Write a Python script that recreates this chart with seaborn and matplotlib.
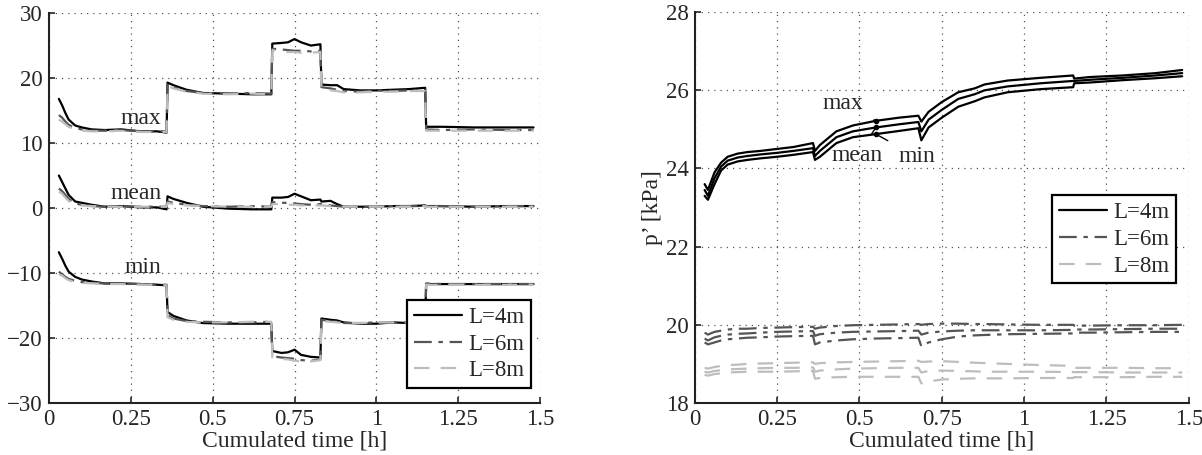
import matplotlib
matplotlib.use("Agg")
import matplotlib.pyplot as plt
import numpy as np
import seaborn as sns

# ---------------- left panel data ----------------
t_left = [0.03, 0.04, 0.05, 0.06, 0.08, 0.10, 0.13, 0.17, 0.22, 0.28, 0.33, 0.359, 0.362,
          0.38, 0.42, 0.47, 0.55, 0.62, 0.679, 0.682, 0.71, 0.73, 0.75, 0.77, 0.80, 0.829,
          0.832, 0.86, 0.88, 0.90, 0.95, 1.0, 1.05, 1.10, 1.149, 1.152, 1.2, 1.3, 1.4, 1.48]

max_4 = [16.8, 15.8, 14.6, 13.6, 12.7, 12.4, 12.1, 12.0, 12.1, 11.8, 11.8, 11.6, 19.3,
         18.9, 18.2, 17.7, 17.6, 17.5, 17.5, 25.3, 25.4, 25.5, 26.0, 25.5, 25.0, 25.2,
         19.0, 18.9, 18.9, 18.3, 18.1, 18.1, 18.2, 18.3, 18.5, 12.5, 12.5, 12.4, 12.4, 12.4]
max_6 = [14.3, 13.9, 13.3, 12.8, 12.3, 12.1, 11.9, 11.9, 12.0, 11.8, 11.8, 11.8, 19.0,
         18.6, 18.0, 17.7, 17.6, 17.7, 17.6, 24.5, 24.4, 24.3, 24.2, 24.2, 24.1, 24.2,
         18.6, 18.4, 18.2, 18.0, 17.9, 18.1, 18.0, 18.1, 18.2, 12.1, 12.0, 12.1, 12.0, 12.0]
max_8 = [13.6, 13.3, 12.9, 12.5, 12.1, 11.9, 11.8, 11.8, 11.9, 11.7, 11.7, 11.7, 18.8,
         18.4, 17.9, 17.6, 17.5, 17.6, 17.5, 24.3, 24.1, 24.0, 24.0, 23.9, 23.9, 24.0,
         18.3, 18.1, 18.0, 17.8, 17.8, 17.9, 17.9, 18.0, 18.0, 11.9, 11.9, 11.9, 11.9, 11.9]

mean_4 = [5.0, 4.0, 3.0, 2.0, 1.0, 0.8, 0.5, 0.2, 0.3, 0.1, 0.1, -0.2, 1.8,
          1.4, 0.8, 0.2, -0.1, -0.2, -0.2, 1.6, 1.6, 1.7, 2.2, 1.8, 1.2, 1.3,
          1.0, 1.1, 0.6, 0.2, 0.2, 0.2, 0.3, 0.3, 0.4, 0.3, 0.3, 0.2, 0.3, 0.3]
mean_6 = [3.0, 2.6, 2.0, 1.4, 0.7, 0.5, 0.3, 0.2, 0.3, 0.2, 0.2, 0.2, 1.0,
          0.8, 0.5, 0.3, 0.2, 0.3, 0.2, 0.9, 0.8, 0.8, 0.7, 0.6, 0.5, 0.6,
          0.6, 0.4, 0.3, 0.2, 0.2, 0.2, 0.3, 0.3, 0.3, 0.3, 0.3, 0.2, 0.3, 0.3]
mean_8 = [2.5, 2.2, 1.6, 1.1, 0.5, 0.4, 0.3, 0.2, 0.2, 0.2, 0.2, 0.2, 0.8,
          0.6, 0.4, 0.3, 0.2, 0.2, 0.2, 0.6, 0.6, 0.5, 0.5, 0.4, 0.4, 0.4,
          0.4, 0.3, 0.2, 0.2, 0.2, 0.2, 0.2, 0.2, 0.3, 0.2, 0.2, 0.2, 0.2, 0.2]

min_4 = [-6.8, -7.8, -8.9, -9.8, -10.6, -11.0, -11.3, -11.6, -11.6, -11.7, -11.8, -11.9, -16.0,
         -16.6, -17.3, -17.7, -17.8, -17.8, -17.8, -22.0, -22.3, -22.2, -21.8, -22.6, -22.9, -23.0,
         -17.0, -17.2, -17.3, -17.6, -17.8, -17.8, -17.6, -17.7, -17.7, -11.7, -11.7, -11.7, -11.7, -11.7]
min_6 = [-9.8, -10.2, -10.6, -10.9, -11.2, -11.4, -11.5, -11.6, -11.6, -11.7, -11.8, -11.8, -16.5,
         -17.0, -17.4, -17.5, -17.6, -17.6, -17.5, -22.8, -23.0, -23.1, -23.2, -23.4, -23.5, -23.3,
         -17.2, -17.4, -17.5, -17.7, -17.7, -17.6, -17.6, -17.6, -17.6, -11.6, -11.7, -11.7, -11.7, -11.7]
min_8 = [-10.2, -10.4, -10.8, -11.1, -11.4, -11.5, -11.6, -11.7, -11.7, -11.8, -11.8, -11.9, -16.8,
         -17.2, -17.5, -17.6, -17.6, -17.5, -17.5, -23.0, -23.2, -23.3, -23.5, -23.6, -23.6, -23.4,
         -17.4, -17.5, -17.6, -17.7, -17.7, -17.6, -17.6, -17.6, -17.6, -11.8, -11.8, -11.8, -11.8, -11.8]

# ---------------- right panel data ----------------
t_right = [0.03, 0.04, 0.06, 0.08, 0.10, 0.13, 0.16, 0.20, 0.25, 0.30, 0.359, 0.365, 0.38,
           0.43, 0.48, 0.55, 0.62, 0.679, 0.688, 0.71, 0.75, 0.80, 0.85, 0.88, 0.95, 1.05,
           1.149, 1.152, 1.2, 1.3, 1.4, 1.48]

p_max_4 = [23.6, 23.45, 23.9, 24.15, 24.3, 24.38, 24.42, 24.45, 24.5, 24.55, 24.65, 24.45, 24.6,
           24.95, 25.1, 25.22, 25.3, 25.35, 25.2, 25.45, 25.7, 25.95, 26.05, 26.15, 26.25, 26.32,
           26.38, 26.3, 26.34, 26.38, 26.44, 26.52]
p_mean_4 = [23.45, 23.3, 23.75, 24.05, 24.2, 24.28, 24.32, 24.36, 24.4, 24.45, 24.52, 24.32, 24.45,
            24.8, 24.95, 25.05, 25.13, 25.19, 24.95, 25.25, 25.5, 25.78, 25.9, 26.0, 26.1, 26.18,
            26.24, 26.24, 26.27, 26.32, 26.38, 26.44]
p_min_4 = [23.3, 23.2, 23.6, 23.95, 24.1, 24.18, 24.22, 24.26, 24.3, 24.35, 24.42, 24.22, 24.3,
           24.65, 24.8, 24.88, 24.96, 25.03, 24.72, 25.05, 25.3, 25.58, 25.72, 25.82, 25.95, 26.03,
           26.08, 26.18, 26.2, 26.26, 26.31, 26.36]

p_max_6 = [19.8, 19.75, 19.82, 19.85, 19.88, 19.9, 19.9, 19.92, 19.93, 19.94, 19.95, 19.9, 19.93,
           19.97, 19.99, 20.0, 20.01, 20.02, 20.0, 20.02, 20.03, 20.03, 20.02, 20.02, 20.01, 20.0,
           20.0, 19.98, 19.98, 19.99, 19.99, 20.0]
p_mean_6 = [19.65, 19.6, 19.68, 19.72, 19.75, 19.77, 19.78, 19.8, 19.82, 19.83, 19.84, 19.72, 19.76,
            19.8, 19.82, 19.83, 19.84, 19.85, 19.75, 19.8, 19.83, 19.85, 19.86, 19.86, 19.86, 19.86,
            19.87, 19.88, 19.88, 19.89, 19.9, 19.9]
p_min_6 = [19.55, 19.5, 19.55, 19.6, 19.63, 19.65, 19.67, 19.68, 19.7, 19.71, 19.72, 19.5, 19.55,
           19.6, 19.63, 19.65, 19.66, 19.67, 19.45, 19.55, 19.63, 19.7, 19.73, 19.74, 19.76, 19.77,
           19.78, 19.8, 19.8, 19.81, 19.82, 19.82]

p_max_8 = [18.9, 18.88, 18.92, 18.95, 18.97, 18.98, 19.0, 19.01, 19.02, 19.03, 19.04, 19.0, 19.02,
           19.04, 19.05, 19.06, 19.07, 19.08, 19.05, 19.06, 19.07, 19.05, 19.03, 19.02, 19.0, 18.97,
           18.95, 18.9, 18.9, 18.9, 18.89, 18.89]
p_mean_8 = [18.8, 18.78, 18.82, 18.84, 18.86, 18.87, 18.88, 18.89, 18.9, 18.9, 18.91, 18.8, 18.83,
            18.86, 18.88, 18.89, 18.9, 18.9, 18.78, 18.82, 18.83, 18.82, 18.81, 18.8, 18.8, 18.8,
            18.79, 18.79, 18.79, 18.78, 18.78, 18.78]
p_min_8 = [18.72, 18.7, 18.74, 18.76, 18.78, 18.79, 18.8, 18.8, 18.8, 18.81, 18.82, 18.62, 18.64,
           18.66, 18.67, 18.67, 18.67, 18.67, 18.5, 18.55, 18.6, 18.62, 18.63, 18.63, 18.63, 18.64,
           18.64, 18.66, 18.66, 18.66, 18.67, 18.67]

labels = ["L=4m", "L=6m", "L=8m"]
colors = ["black", "#555555", "#bdbdbd"]
styles = ["-", (0, (8, 3, 2, 3)), (0, (7, 5))]
xticks = [0, 0.25, 0.5, 0.75, 1, 1.25, 1.5]
xticklabels = ["0", "0.25", "0.5", "0.75", "1", "1.25", "1.5"]

sns.set_style("ticks")
plt.rcParams["font.family"] = ["Liberation Serif", "DejaVu Serif"]
FS = 16.5

fig = plt.figure(figsize=(12.02, 4.55), dpi=100)
axL = fig.add_axes([0.0408, 0.1143, 0.4085, 0.857])
axR = fig.add_axes([0.578, 0.1143, 0.411, 0.859])


def draw(ax, t, groups):
    for k, series in enumerate(groups):
        for j, y in enumerate(series):
            sns.lineplot(x=t, y=y, ax=ax, color=colors[k], linestyle=styles[k], lw=1.6,
                         sort=False, estimator=None, label=labels[k] if j == 0 else None,
                         legend=False)


def style(ax, ylim, yticks):
    ax.set_xlim(0, 1.5)
    ax.set_ylim(*ylim)
    ax.set_xticks(xticks)
    ax.set_xticklabels(xticklabels)
    ax.set_yticks(yticks)
    ax.set_yticklabels([f"{v:g}".replace("-", "\u2212") for v in yticks])
    ax.grid(True, linestyle=(0, (1, 4)), color="#555555", lw=0.9)
    for s in ["top", "right"]:
        ax.spines[s].set_visible(False)
    for s in ["left", "bottom"]:
        ax.spines[s].set_linewidth(1.5)
        ax.spines[s].set_color("#222222")
    ax.tick_params(direction="in", length=4, width=1.2, labelsize=FS, pad=4.5)
    ax.set_xlabel("Cumulated time [h]", fontsize=FS + 0.5, labelpad=0)


def legend(ax, loc, anchor):
    lg = ax.legend(loc=loc, bbox_to_anchor=anchor, fontsize=FS, fancybox=False,
                   framealpha=1, edgecolor="black", handlelength=2.1, labelspacing=0.25,
                   borderpad=0.3, handletextpad=0.25, borderaxespad=0)
    lg.get_frame().set_linewidth(1.6)


# left panel
draw(axL, t_left, [[max_4, mean_4, min_4], [max_6, mean_6, min_6], [max_8, mean_8, min_8]])
style(axL, (-30, 30), [-30, -20, -10, 0, 10, 20, 30])
axL.text(0.28, 13.8, "max", fontsize=FS + 0.5, ha="center", va="center")
axL.text(0.265, 2.3, "mean", fontsize=FS + 0.5, ha="center", va="center")
axL.text(0.286, -9.2, "min", fontsize=FS + 0.5, ha="center", va="center")
legend(axL, "lower right", (0.982, 0.038))

# right panel
draw(axR, t_right, [[p_max_4, p_mean_4, p_min_4], [p_max_6, p_mean_6, p_min_6],
                    [p_max_8, p_mean_8, p_min_8]])
style(axR, (18, 28), [18, 20, 22, 24, 26, 28])
axR.set_ylabel("p\u2019 [kPa]", fontsize=FS + 0.5, labelpad=2)

i = t_right.index(0.55)
ann = [("max", (0.45, 25.67), p_max_4[i]),
       ("mean", (0.493, 24.32), p_mean_4[i]),
       ("min", (0.674, 24.3), p_min_4[i])]
for txt, pos, yv in ann:
    axR.annotate(txt, xy=(t_right[i], yv), xytext=pos, fontsize=FS + 0.5,
                 ha="center", va="center",
                 arrowprops=dict(arrowstyle="-", color="black", lw=1.0, shrinkA=6, shrinkB=0))
    axR.plot(t_right[i], yv, "o", color="black", ms=3)
legend(axR, "upper right", (0.974, 0.532))

fig.savefig("out.png", dpi=100)
